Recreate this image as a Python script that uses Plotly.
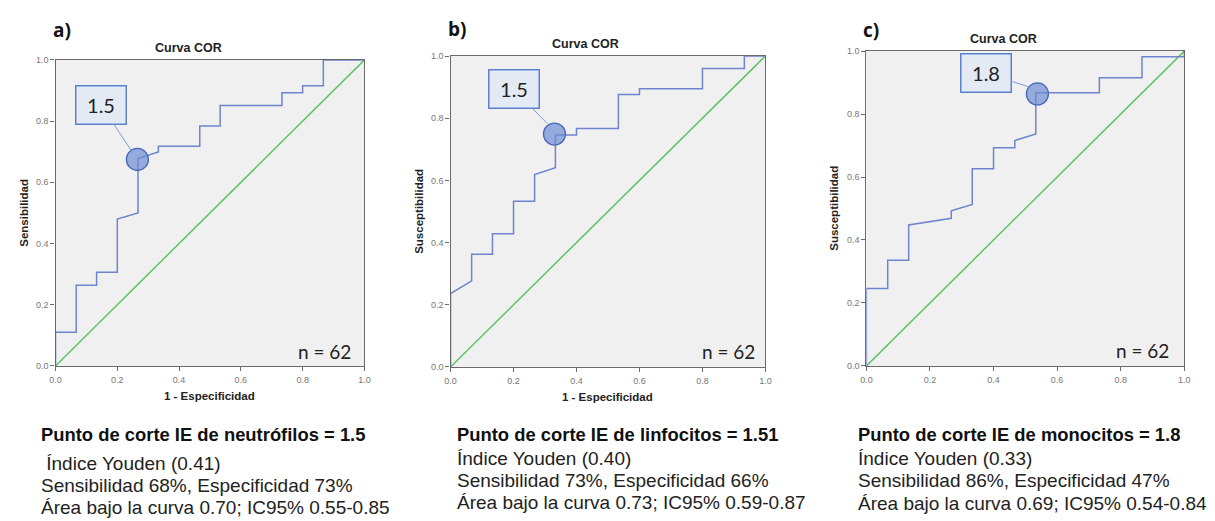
import plotly.graph_objects as go

W, H = 1215, 521

# ---- data ----
a_fpr = [0, 0, 0.067, 0.067, 0.133, 0.133, 0.2, 0.2, 0.267, 0.267, 0.333, 0.333,
         0.467, 0.467, 0.533, 0.533, 0.733, 0.733, 0.8, 0.8, 0.867, 0.867, 1.0]
a_tpr = [0, 0.11, 0.11, 0.264, 0.264, 0.306, 0.306, 0.48, 0.50, 0.678, 0.699, 0.718,
         0.718, 0.784, 0.784, 0.851, 0.851, 0.893, 0.893, 0.916, 0.916, 1.0, 1.0]

b_fpr = [0, 0, 0.067, 0.067, 0.133, 0.133, 0.2, 0.2, 0.267, 0.267, 0.333, 0.333,
         0.4, 0.4, 0.533, 0.533, 0.6, 0.6, 0.8, 0.8, 0.933, 0.933, 1.0]
b_tpr = [0, 0.236, 0.277, 0.362, 0.362, 0.428, 0.428, 0.533, 0.533, 0.619, 0.641, 0.746,
         0.746, 0.767, 0.767, 0.876, 0.876, 0.895, 0.895, 0.96, 0.96, 1.0, 1.0]

c_fpr = [0, 0, 0.067, 0.067, 0.133, 0.133, 0.267, 0.267, 0.333, 0.333, 0.4, 0.4,
         0.467, 0.467, 0.533, 0.533, 0.733, 0.733, 0.867, 0.867, 1.0, 1.0]
c_tpr = [0, 0.246, 0.246, 0.336, 0.336, 0.448, 0.469, 0.493, 0.513, 0.626, 0.626, 0.693,
         0.693, 0.716, 0.737, 0.868, 0.868, 0.915, 0.915, 0.982, 0.982, 1.0]

ref_line = [0, 1]

cut_x = [0.265, 0.330, 0.538]
cut_y = [0.675, 0.749, 0.864]
cut_labels = ["1.5", "1.5", "1.8"]
label_tip_x = [0.245, 0.307, 0.510]
label_tip_y = [0.704, 0.783, 0.887]

panel_tags = ["a)", "b)", "c)"]
y_titles = ["Sensibilidad", "Susceptibilidad", "Susceptibilidad"]
x_title = "1 - Especificidad"
plot_title = "Curva COR"
n_text = "n = 62"
tick_vals = [0.0, 0.2, 0.4, 0.6, 0.8, 1.0]
tick_text = ["0.0", "0.2", "0.4", "0.6", "0.8", "1.0"]

headings = ["Punto de corte IE de neutrófilos = 1.5",
            "Punto de corte IE de linfocitos = 1.51",
            "Punto de corte IE de monocitos = 1.8"]
details = [[" Índice Youden (0.41)", "Sensibilidad 68%, Especificidad 73%",
            "Área bajo la curva 0.70; IC95% 0.55-0.85"],
           ["Índice Youden (0.40)", "Sensibilidad 73%, Especificidad 66%",
            "Área bajo la curva 0.73; IC95% 0.59-0.87"],
           ["Índice Youden (0.33)", "Sensibilidad 86%, Especificidad 47%",
            "Área bajo la curva 0.69; IC95% 0.54-0.84"]]

# ---- layout geometry (pixels) ----
plot_px = [(50, 362, 56, 368), (449, 767, 52, 369), (869, 1190, 47, 368)]
tag_px = [(57, 25), (455, 24), (874, 25)]
title_px = [(184, 44), (585, 40), (1007, 35)]
xtitle_px = [(206, 399), (608, 400), None]
ytitle_px = [(18, 212), (417, 210), (836, 207)]
n_px = [(322, 353), (730, 353), (1148, 352)]
box_px = [(96.5, 103), (513, 86.7), (990, 70)]
text_x = [33, 453, 858]
text_y = [[438, 467, 490, 512], [438, 462, 485, 507], [438, 462, 485, 508]]


def px(x):
    return x / W


def py(y):
    return 1 - y / H


STEP_COLOR = "#6e84cf"
GREEN = "#5cc462"
AXIS_COLOR = "#6a6a6a"


def paper_text(x, y, text, font, **kw):
    d = dict(x=px(x), y=py(y), xref="paper", yref="paper", text=text,
             showarrow=False, xanchor="center", yanchor="middle", font=font)
    d.update(kw)
    return d


fig = go.Figure()
curves = [(a_fpr, a_tpr), (b_fpr, b_tpr), (c_fpr, c_tpr)]
annotations = []
for i, (fx, ty) in enumerate(curves):
    xa = "x" if i == 0 else f"x{i+1}"
    ya = "y" if i == 0 else f"y{i+1}"
    fig.add_trace(go.Scatter(x=ref_line, y=ref_line, mode="lines",
                             line=dict(color=GREEN, width=1.5),
                             xaxis=xa, yaxis=ya, showlegend=False, hoverinfo="skip"))
    fig.add_trace(go.Scatter(x=fx, y=ty, mode="lines",
                             line=dict(color=STEP_COLOR, width=1.5),
                             xaxis=xa, yaxis=ya, showlegend=False))
    fig.add_trace(go.Scatter(x=[cut_x[i]], y=[cut_y[i]], mode="markers",
                             marker=dict(size=22, color="rgba(110,140,212,0.7)",
                                         line=dict(color="#4a68b8", width=1.3)),
                             xaxis=xa, yaxis=ya, showlegend=False))

    x0, x1, y0, y1 = plot_px[i]
    axis_common = dict(range=[0, 1], showgrid=False, zeroline=False,
                       showline=True, linecolor=AXIS_COLOR, linewidth=1.3, mirror=True,
                       ticks="outside", ticklen=4, tickcolor=AXIS_COLOR, tickwidth=1.2,
                       tickvals=tick_vals, ticktext=tick_text,
                       tickfont=dict(family="Liberation Sans, Arial", size=9, color="#777777"),
                       fixedrange=True)
    fig.update_layout({
        ("xaxis" if i == 0 else f"xaxis{i+1}"): dict(domain=[px(x0), px(x1)],
                                                      anchor=ya, ticklabelstandoff=1,
                                                      **axis_common),
        ("yaxis" if i == 0 else f"yaxis{i+1}"): dict(domain=[py(y1), py(y0)],
                                                      anchor=xa, **axis_common),
    })

    # label box with connector
    bx, by = box_px[i]
    tip_px_x = x0 + label_tip_x[i] * (x1 - x0)
    tip_px_y = y1 - label_tip_y[i] * (y1 - y0)
    annotations.append(dict(x=label_tip_x[i], y=label_tip_y[i], xref=xa, yref=ya,
                            text=cut_labels[i], showarrow=True, arrowhead=0,
                            arrowwidth=1, arrowcolor="#7f9ad8",
                            ax=bx - tip_px_x, ay=by - tip_px_y,
                            xanchor="center", yanchor="middle",
                            width=49, height=37, borderpad=0,
                            bgcolor="#e4eaf4", bordercolor="#5c82cf", borderwidth=1.5,
                            font=dict(family="Lato, Open Sans", size=20, color="#222222")))
    # texts
    annotations.append(paper_text(*tag_px[i], f"<b>{panel_tags[i]}</b>",
                                  dict(family="Open Sans", size=19, color="#111111")))
    annotations.append(paper_text(*title_px[i], f"<b>{plot_title}</b>",
                                  dict(family="Liberation Sans, Arial", size=12.5, color="#222222")))
    if xtitle_px[i] is not None:
        annotations.append(paper_text(*xtitle_px[i], f"<b>{x_title}</b>",
                                      dict(family="Liberation Sans, Arial", size=11.5, color="#222222")))
    annotations.append(paper_text(*ytitle_px[i], f"<b>{y_titles[i]}</b>",
                                  dict(family="Liberation Sans, Arial", size=11.5, color="#222222"),
                                  textangle=-90))
    annotations.append(paper_text(*n_px[i], n_text,
                                  dict(family="Lato, Open Sans", size=19, color="#222222")))
    # bottom text
    annotations.append(paper_text(text_x[i], text_y[i][0], f"<b>{headings[i]}</b>",
                                  dict(family="Liberation Sans, Arial", size=18.4, color="#111111"),
                                  xanchor="left"))
    for j, line in enumerate(details[i]):
        txt = line.replace(" ", "&nbsp;", 1) if line.startswith(" ") else line
        annotations.append(paper_text(text_x[i], text_y[i][j + 1], txt,
                                      dict(family="Liberation Sans, Arial", size=19, color="#222222"),
                                      xanchor="left"))

fig.update_layout(width=W, height=H, margin=dict(l=0, r=0, t=0, b=0),
                  paper_bgcolor="white", plot_bgcolor="#f0f0f0",
                  annotations=annotations, showlegend=False)

fig.write_html("out.html",
               post_script="document.body.style.margin='0px';document.body.style.overflow='hidden';")
